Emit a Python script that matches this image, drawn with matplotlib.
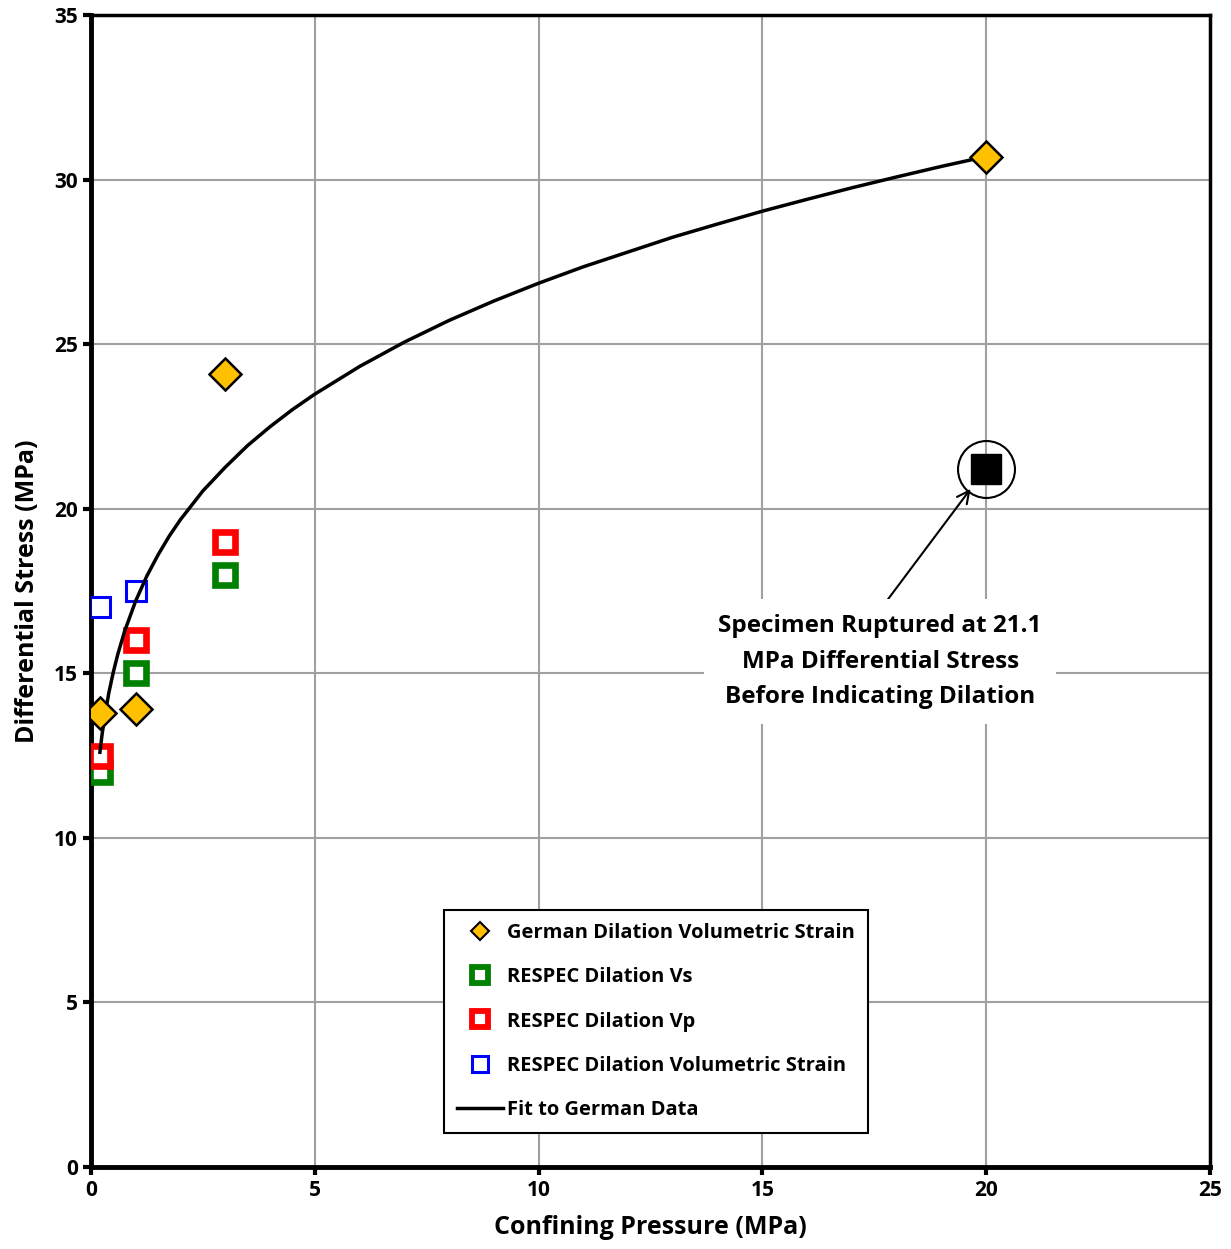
import matplotlib
matplotlib.use("Agg")
import matplotlib.pyplot as plt
from matplotlib.lines import Line2D

plt.rcParams['font.family'] = ['Open Sans', 'DejaVu Sans']
plt.rcParams['font.weight'] = 'bold'

# german dilation data
german_x = [0.2, 1.0, 3.0, 20.0]
german_y = [13.8, 13.9, 24.1, 30.7]

# RESPEC data
vs_x = [0.2, 1.0, 3.0]
vs_y = [12.0, 15.0, 18.0]
vp_x = [0.2, 1.0, 3.0]
vp_y = [12.5, 16.0, 19.0]
vol_x = [0.2, 1.0]
vol_y = [17.0, 17.5]

# ruptured specimen
rupt_x = [20.0]
rupt_y = [21.2]

# fit curve
fit_x = [0.2, 0.25, 0.3, 0.4, 0.5, 0.6, 0.75, 1.0, 1.25, 1.5, 1.75, 2.0, 2.5,
         3.0, 3.5, 4.0, 4.5, 5.0, 6.0, 7.0, 8.0, 9.0, 10.0, 11.0, 12.0, 13.0,
         14.0, 15.0, 16.0, 17.0, 18.0, 19.0, 20.0]
fit_y = [12.60, 13.16, 13.62, 14.41, 15.04, 15.58, 16.27, 17.20, 17.96, 18.60,
         19.17, 19.67, 20.54, 21.26, 21.92, 22.49, 23.01, 23.48, 24.32, 25.06,
         25.72, 26.31, 26.85, 27.35, 27.80, 28.25, 28.65, 29.04, 29.40, 29.75,
         30.08, 30.40, 30.70]

fig = plt.figure(figsize=(12.31, 12.49), dpi=100)
ax = fig.add_axes([0.0739, 0.0657, 0.9091, 0.9223])

ax.plot(fit_x, fit_y, color='black', lw=2.5, zorder=4, solid_joinstyle='round')
ax.plot(german_x, german_y, 'D', ms=16.5, mfc='#FFC000', mec='black', mew=1.8,
        ls='none', zorder=5)
ax.plot(vs_x, vs_y, 's', ms=14, mfc='white', mec='#008000', mew=4.8,
        ls='none', zorder=3)
ax.plot(vp_x, vp_y, 's', ms=14, mfc='white', mec='#FF0000', mew=4.8,
        ls='none', zorder=3)
ax.plot(vol_x, vol_y, 's', ms=14.5, mfc='white', mec='#0000FF', mew=2.2,
        ls='none', zorder=3)
ax.plot(rupt_x, rupt_y, 's', ms=21, mfc='black', mec='black', ls='none', zorder=5)
ax.plot(rupt_x, rupt_y, 'o', ms=41, mfc='none', mec='black', mew=1.5, ls='none', zorder=5)

ax.annotate('Specimen Ruptured at 21.1\nMPa Differential Stress\nBefore Indicating Dilation',
            xy=(19.65, 20.6), xytext=(17.63, 15.35), ha='center', va='center',
            fontsize=17.5, fontweight='bold', linespacing=1.65,
            bbox=dict(boxstyle='square,pad=0.6', fc='white', ec='none'),
            arrowprops=dict(arrowstyle='->', color='black', lw=1.5, relpos=(0.49, 1.0),
                            shrinkA=0, shrinkB=0, mutation_scale=22),
            zorder=6)

ax.set_xlim(0, 25)
ax.set_ylim(0, 35)
ax.set_xticks(range(0, 26, 5))
ax.set_yticks(range(0, 36, 5))
ax.grid(True, color='#a0a0a0', lw=1.5)
ax.set_axisbelow(True)
ax.tick_params(direction='out', length=6, width=3, labelsize=15)
for lab in ax.get_xticklabels() + ax.get_yticklabels():
    lab.set_fontweight('bold')
for s in ['left', 'bottom']:
    ax.spines[s].set_linewidth(3.5)
for s in ['top', 'right']:
    ax.spines[s].set_linewidth(2.5)

ax.set_xlabel('Confining Pressure (MPa)', fontsize=18, fontweight='bold', labelpad=10)
ax.set_ylabel('Differential Stress (MPa)', fontsize=18, fontweight='bold', labelpad=10)

handles = [
    Line2D([], [], marker='D', ms=9, mfc='#FFC000', mec='black', mew=1.5, ls='none'),
    Line2D([], [], marker='s', ms=11, mfc='white', mec='#008000', mew=4.2, ls='none'),
    Line2D([], [], marker='s', ms=11, mfc='white', mec='#FF0000', mew=4.2, ls='none'),
    Line2D([], [], marker='s', ms=11, mfc='white', mec='#0000FF', mew=2.2, ls='none'),
    Line2D([], [], color='black', lw=2.5),
]
labels = ['German Dilation Volumetric Strain', 'RESPEC Dilation Vs',
          'RESPEC Dilation Vp', 'RESPEC Dilation Volumetric Strain',
          'Fit to German Data']
leg = ax.legend(handles, labels, loc='lower left', bbox_to_anchor=(0.3155, 0.0295),
                borderaxespad=0, fontsize=14.5, frameon=True, fancybox=False,
                edgecolor='black', framealpha=1, borderpad=0.65, labelspacing=1.2,
                handlelength=2.3, handletextpad=0.2)
leg.get_frame().set_linewidth(1.5)
for t in leg.get_texts():
    t.set_fontweight('bold')

fig.savefig('out.png', dpi=100)
